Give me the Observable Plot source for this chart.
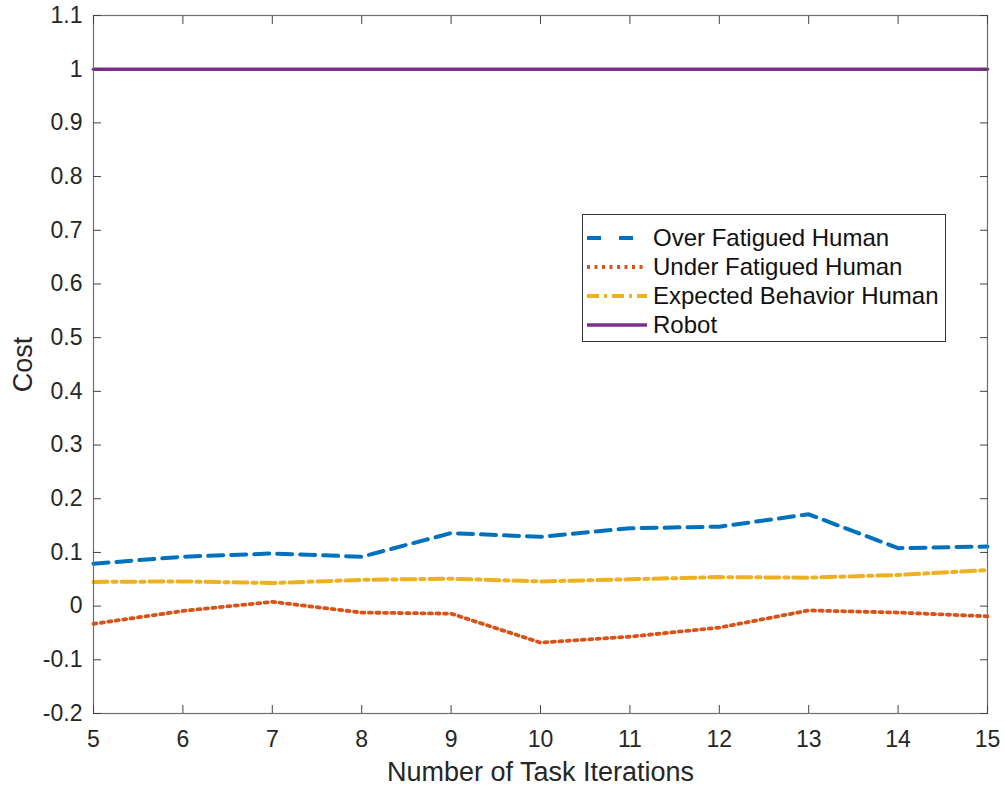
<!DOCTYPE html>
<html>
<head>
<meta charset="utf-8">
<script src="https://cdn.jsdelivr.net/npm/d3@7"></script>
<script src="https://cdn.jsdelivr.net/npm/@observablehq/plot@0.6"></script>
<style>
  html, body { margin: 0; padding: 0; background: #fff; }
  #wrap { position: relative; width: 1005px; height: 787px; font-family: "Liberation Sans", Arial, sans-serif; }
  #wrap svg text { fill: #262626; }
  #wrap svg [aria-label="x-axis label"] text, #wrap svg [aria-label="y-axis label"] text { font-size: 27px; }
  #legend { position: absolute; left: 582px; top: 214px; width: 362px; height: 126px; border: 1px solid #333; background: #fff; box-sizing: content-box; }
  .row { position: absolute; left: 0; height: 29px; display: flex; align-items: center; font-size: 24px; color: #111; white-space: nowrap; }
  .row svg { display: block; margin-left: 4px; margin-right: 6px; }
</style>
</head>
<body>
<div id="wrap"></div>
<script>
const iterations = [5, 6, 7, 8, 9, 10, 11, 12, 13, 14, 15];
const overFatigued  = [0.079, 0.092, 0.098, 0.092, 0.136, 0.129, 0.145, 0.148, 0.171, 0.108, 0.111];
const underFatigued = [-0.033, -0.009, 0.008, -0.012, -0.014, -0.068, -0.057, -0.040, -0.008, -0.012, -0.019];
const expectedBehavior = [0.045, 0.046, 0.043, 0.049, 0.051, 0.046, 0.050, 0.054, 0.053, 0.058, 0.067];
const robot = [1, 1, 1, 1, 1, 1, 1, 1, 1, 1, 1];

const seriesNames = ["Over Fatigued Human", "Under Fatigued Human", "Expected Behavior Human", "Robot"];
const seriesValues = [overFatigued, underFatigued, expectedBehavior, robot];
const seriesColors = ["#0072BD", "#D95319", "#EDB120", "#7E2F8E"];
const seriesDash = ["15,8", "3,4.5", "14,5,4,5", null];
const legendDash = ["14,18", "3,4.5", "12,5,3,5", null];
const seriesWidth = [4, 3.8, 4, 3.6];

const xTicks = [5, 6, 7, 8, 9, 10, 11, 12, 13, 14, 15];
const yTicks = [-0.2, -0.1, 0, 0.1, 0.2, 0.3, 0.4, 0.5, 0.6, 0.7, 0.8, 0.9, 1, 1.1];
const xLabel = "Number of Task Iterations";
const yLabel = "Cost";

const series = seriesNames.map((name, i) =>
  iterations.map((x, j) => ({series: name, x, y: seriesValues[i][j]}))
);

const fmtY = d => d === 0 ? "0" : String(+d.toFixed(1));

const chart = Plot.plot({
  width: 1005,
  height: 787,
  marginLeft: 93,
  marginRight: 18,
  marginTop: 15,
  marginBottom: 74,
  style: {fontFamily: '"Liberation Sans", Arial, sans-serif', background: "#fff", color: "#262626"},
  x: {domain: [5, 15]},
  y: {domain: [-0.2, 1.1]},
  marks: [
    ...series.map((data, i) => Plot.line(data, {
      x: "x", y: "y",
      stroke: seriesColors[i],
      strokeWidth: seriesWidth[i],
      strokeDasharray: seriesDash[i],
      strokeLinejoin: "round"
    })),
    Plot.frame({stroke: "#6f6f6f", strokeWidth: 1.2}),
    Plot.axisX({ticks: xTicks, tickSize: -8, tickPadding: 25.5, fontSize: 23, tickFormat: d => String(d),
      stroke: "#444", label: xLabel, labelAnchor: "center", labelArrow: "none", labelOffset: 67}),
    Plot.axisX({anchor: "top", ticks: xTicks, tickSize: -8, tickFormat: () => "", stroke: "#444", label: null}),
    Plot.axisY({ticks: yTicks, tickSize: -8, tickPadding: 19, fontSize: 23, tickFormat: fmtY,
      stroke: "#444", label: yLabel, labelAnchor: "center", labelArrow: "none", labelOffset: 81}),
    Plot.axisY({anchor: "right", ticks: yTicks, tickSize: -8, tickFormat: () => "", stroke: "#444", label: null})
  ]
});

const wrap = document.getElementById("wrap");
wrap.appendChild(chart);

const legend = document.createElement("div");
legend.id = "legend";
seriesNames.forEach((name, i) => {
  const row = document.createElement("div");
  row.className = "row";
  row.style.top = (8 + i * 29) + "px";
  const svg = d3.create("svg").attr("width", 60).attr("height", 10);
  svg.append("line").attr("x1", 0).attr("x2", 60).attr("y1", 5).attr("y2", 5)
    .attr("stroke", seriesColors[i]).attr("stroke-width", seriesWidth[i])
    .attr("stroke-dasharray", legendDash[i]);
  row.appendChild(svg.node());
  const span = document.createElement("span");
  span.textContent = name;
  row.appendChild(span);
  legend.appendChild(row);
});
wrap.appendChild(legend);
</script>
</body>
</html>
